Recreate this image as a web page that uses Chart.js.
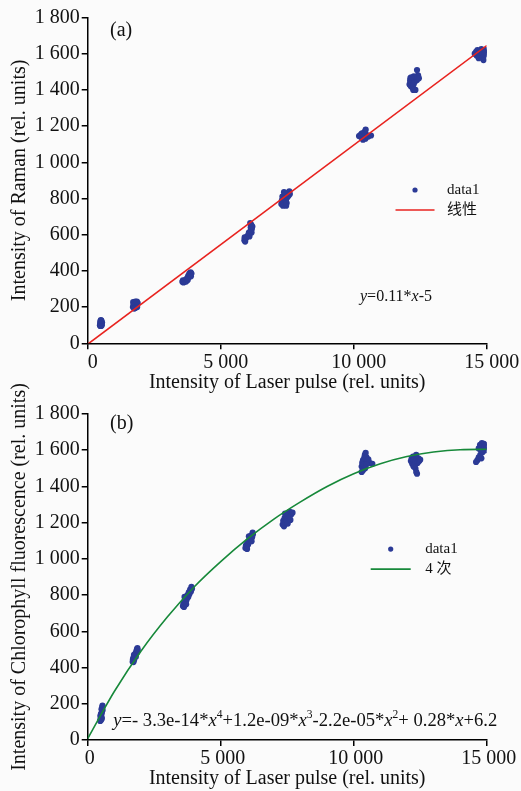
<!DOCTYPE html>
<html><head><meta charset="utf-8">
<script src="https://cdn.jsdelivr.net/npm/chart.js@4.4.1/dist/chart.umd.min.js"></script>
<style>
html,body{margin:0;padding:0;background:#fbfbfb;}
#wrap{position:relative;width:521px;height:791px;overflow:hidden;}
#c1{position:absolute;left:0;top:0;}
#c2{position:absolute;left:0;top:370px;}
</style></head><body>
<div id="wrap"><canvas id="c1" width="521" height="395"></canvas><canvas id="c2" width="521" height="421"></canvas></div>
<script>
// ---------- tick labels ----------
const xTickValues = [0, 5000, 10000, 15000];
const xTickLabels = ['0', '5 000', '10 000', '15 000'];
const yTickValues = [0, 200, 400, 600, 800, 1000, 1200, 1400, 1600, 1800];
const yTickLabels = ['0', '200', '400', '600', '800', '1 000', '1 200', '1 400', '1 600', '1 800'];

// ---------- (a) Raman data ----------
const ramanX = [
  460,470,480,490,500,505,515,520,530,540,475,495,
  1700,1720,1740,1760,1780,1800,1820,1840,1860,1880,1750,1790,1710,1850,
  3560,3580,3600,3620,3650,3680,3700,3720,3750,3780,3800,3820,3850,3870,3900,3880,3760,
  5890,5900,5920,5950,6000,6050,6080,6100,6120,6130,6150,6170,6190,6160,6110,6060,
  7280,7300,7320,7350,7380,7400,7420,7450,7480,7500,7520,7550,7580,7600,7340,7460,7380,
  10200,10250,10300,10330,10350,10400,10420,10450,10440,10500,10550,10650,10380,10300,
  12100,12120,12130,12150,12180,12200,12220,12250,12280,12300,12320,12350,12380,12420,12450,12380,12260,12160,12240,
  14550,14600,14620,14650,14700,14720,14750,14780,14800,14820,14850,14870,14900,14920,14950,14880,14700,14960
];
const ramanY = [
  100,112,122,105,96,118,126,108,100,115,96,128,
  200,215,225,205,195,218,228,210,200,222,192,230,228,230,
  340,348,336,345,340,350,342,355,362,372,365,385,378,392,385,370,350,
  570,585,562,580,592,600,590,608,620,640,655,632,645,612,664,612,
  770,790,810,780,765,800,820,790,775,805,830,815,840,825,760,760,835,
  1145,1150,1135,1160,1125,1145,1170,1180,1130,1150,1142,1148,1155,1158,
  1430,1450,1465,1420,1440,1455,1410,1430,1460,1445,1400,1470,1455,1480,1465,1510,1475,1470,1400,
  1600,1610,1590,1620,1605,1585,1615,1595,1625,1600,1610,1580,1615,1595,1605,1565,1575,1620
];
const linearFitX = [0, 15000];
const linearFitY = [-5, 1645];

// ---------- (b) Chlorophyll fluorescence data ----------
const fluorX = [
  470,480,490,500,510,520,530,540,520,545,555,500,560,480,530,
  1690,1700,1720,1740,1760,1780,1800,1810,1830,1850,1870,1860,1740,1720,1880,
  3580,3600,3620,3650,3680,3700,3720,3750,3780,3800,3820,3850,3880,3900,3920,3700,3640,
  5930,5950,5980,6000,6030,6050,6080,6100,6120,6150,6180,6200,6210,6060,5990,6160,
  7330,7350,7380,7400,7430,7450,7480,7500,7520,7550,7580,7600,7650,7700,7420,7620,
  10300,10320,10350,10380,10400,10420,10450,10480,10500,10430,10350,10300,10600,10700,10550,10470,
  12150,12180,12200,12230,12260,12280,12300,12330,12350,12380,12400,12430,12460,12500,12320,12350,12380,12250,
  14700,14750,14780,14800,14820,14850,14880,14900,14930,14950,14970,14760,14700,14650,14600,14800,14850
];
const fluorY = [
  105,115,128,110,140,125,150,160,170,180,190,145,165,135,118,
  432,445,455,440,465,470,480,460,490,500,507,485,470,430,495,
  740,755,735,770,760,785,775,800,790,815,805,830,820,845,835,750,790,
  1060,1075,1068,1090,1080,1100,1095,1115,1105,1130,1120,1145,1135,1125,1055,1098,
  1190,1210,1180,1225,1200,1240,1215,1230,1195,1250,1235,1260,1245,1255,1250,1215,
  1510,1530,1545,1520,1560,1575,1585,1560,1540,1500,1490,1480,1530,1525,1550,1520,
  1540,1555,1525,1565,1545,1520,1560,1535,1575,1550,1530,1555,1540,1548,1500,1480,1470,1510,
  1610,1630,1600,1620,1640,1615,1605,1635,1620,1600,1628,1575,1560,1545,1535,1555,1590
];
const polyFitX = [0, 500, 1000, 2000, 3000, 4000, 5000, 6000, 7000, 8000, 9000, 10000, 11000, 12000, 13000, 14000, 15000];
const polyFitY = [8, 140, 268, 490, 680, 845, 985, 1110, 1220, 1315, 1400, 1470, 1525, 1565, 1590, 1603, 1605];

// ---------- styling ----------
const FONT = "'Liberation Serif','Times New Roman','Noto Sans CJK SC',serif";
Chart.defaults.font.family = FONT;
Chart.defaults.color = '#111';
const DOT = '#2b3a96';

const toPts = (xs, ys) => xs.map((x, i) => ({x: x, y: ys[i]}));

function makeScales(xTitle, yTitle, xAxisH, xLabelOffset) {
  return {
    x: {
      type: 'linear', min: 0, max: 15000,
      afterBuildTicks: s => { s.ticks = xTickValues.map(v => ({value: v})); },
      ticks: {callback: v => xTickLabels[xTickValues.indexOf(v)], font: {size: 20}, color: '#111',
              padding: 1, maxRotation: 0, autoSkip: false, labelOffset: xLabelOffset},
      grid: {drawOnChartArea: false, drawTicks: true, tickLength: 6, color: '#000', lineWidth: 1.5},
      border: {display: true, color: '#000', width: 1.5},
      title: {display: true, text: xTitle, font: {size: 20}, color: '#111', padding: {top: 0, bottom: 0}},
      afterFit: s => { s.height = xAxisH; }
    },
    y: {
      type: 'linear', min: 0, max: 1800,
      afterBuildTicks: s => { s.ticks = yTickValues.map(v => ({value: v})); },
      ticks: {callback: v => yTickLabels[yTickValues.indexOf(v)], font: {size: 20}, color: '#111',
              padding: 2, autoSkip: false},
      grid: {drawOnChartArea: false, drawTicks: true, tickLength: 6, color: '#000', lineWidth: 1.5},
      border: {display: true, color: '#000', width: 1.5},
      title: {display: true, text: yTitle, font: {size: 20}, color: '#111', padding: {top: 8, bottom: 0}},
      afterFit: s => { s.width = 87.7; }
    }
  };
}

function drawRich(ctx, segs, x, y, size) {
  let cx = x;
  segs.forEach(s => {
    const fs = s.sup ? size * 0.62 : size;
    ctx.font = (s.it ? 'italic ' : '') + fs + 'px ' + FONT;
    const dy = s.sup ? -size * 0.42 : 0;
    ctx.fillText(s.t, cx, y + dy);
    cx += ctx.measureText(s.t).width;
  });
}

const overlayPlugin = {
  id: 'overlay',
  afterDraw(chart, args, opts) {
    const ctx = chart.ctx, xs = chart.scales.x, ys = chart.scales.y;
    ctx.save();
    ctx.fillStyle = '#111';
    ctx.textAlign = 'left';
    (opts.notes || []).forEach(n => {
      ctx.textBaseline = n.baseline || 'alphabetic';
      drawRich(ctx, n.segs, xs.getPixelForValue(n.x), ys.getPixelForValue(n.y), n.size);
    });
    const lg = opts.legend;
    if (lg) {
      const cx = xs.getPixelForValue(lg.x);
      let cy = ys.getPixelForValue(lg.y);
      chart.data.datasets.forEach(ds => {
        if (ds.showLine === false) {
          ctx.fillStyle = ds.pointBackgroundColor;
          ctx.beginPath(); ctx.arc(cx, cy, 2.6, 0, Math.PI * 2); ctx.fill();
        } else {
          ctx.strokeStyle = ds.borderColor; ctx.lineWidth = ds.borderWidth;
          ctx.beginPath(); ctx.moveTo(cx - lg.lineHalf, cy); ctx.lineTo(cx + lg.lineHalf, cy); ctx.stroke();
        }
        ctx.fillStyle = '#111';
        ctx.font = lg.size + 'px ' + FONT;
        ctx.textBaseline = 'middle';
        ctx.fillText(ds.label, cx + lg.textOffset, cy);
        cy += lg.rowGap;
      });
    }
    ctx.restore();
  }
};

function makeChart(id, pts, fitPts, fitLabel, fitColor, monotone, xTitle, yTitle, padTop, xAxisH, xLabOff, overlay) {
  return new Chart(document.getElementById(id), {
    type: 'scatter',
    data: {
      datasets: [
        {label: 'data1', data: pts, showLine: false, pointRadius: 3.1, pointBackgroundColor: DOT,
         pointBorderWidth: 0, pointBorderColor: DOT, order: 1},
        {type: 'line', label: fitLabel, data: fitPts, showLine: true, pointRadius: 0, borderColor: fitColor,
         borderWidth: 1.6, fill: false, cubicInterpolationMode: monotone ? 'monotone' : 'default', tension: 0, order: 0}
      ]
    },
    options: {
      responsive: false, animation: false, devicePixelRatio: 1,
      layout: {padding: {top: padTop, right: 34.3, left: 0, bottom: 0}},
      scales: makeScales(xTitle, yTitle, xAxisH, xLabOff),
      plugins: {legend: {display: false}, tooltip: {enabled: false}, overlay: overlay}
    },
    plugins: [overlayPlugin]
  });
}

makeChart('c1', toPts(ramanX, ramanY), toPts(linearFitX, linearFitY), '线性', '#e8231f', false,
  'Intensity of Laser pulse (rel. units)', 'Intensity of Raman (rel. units)', 17.5, 51.7, 5,
  {
    notes: [
      {x: 838, y: 1725, size: 20, baseline: 'middle', segs: [{t: '(a)'}]},
      {x: 10237, y: 236, size: 16, segs: [{t: 'y', it: true}, {t: '=0.11*'}, {t: 'x', it: true}, {t: '-5'}]}
    ],
    legend: {x: 12305, y: 847, rowGap: 20, lineHalf: 19.5, textOffset: 32, size: 15}
  });

makeChart('c2', toPts(fluorX, fluorY), toPts(polyFitX, polyFitY), '4 次', '#17893a', true,
  'Intensity of Laser pulse (rel. units)', 'Intensity of Chlorophyll fluorescence (rel. units)', 44, 51, 2,
  {
    notes: [
      {x: 838, y: 1745, size: 20, baseline: 'middle', segs: [{t: '(b)'}]},
      {x: 962, y: 77, size: 18.6, segs: [
        {t: 'y', it: true}, {t: '=- 3.3e-14*'}, {t: 'x', it: true}, {t: '4', sup: true},
        {t: '+1.2e-09*'}, {t: 'x', it: true}, {t: '3', sup: true},
        {t: '-2.2e-05*'}, {t: 'x', it: true}, {t: '2', sup: true},
        {t: '+ 0.28*'}, {t: 'x', it: true}, {t: '+6.2'}]}
    ],
    legend: {x: 11391, y: 1054, rowGap: 20, lineHalf: 20, textOffset: 34.5, size: 15}
  });
</script>
</body></html>
